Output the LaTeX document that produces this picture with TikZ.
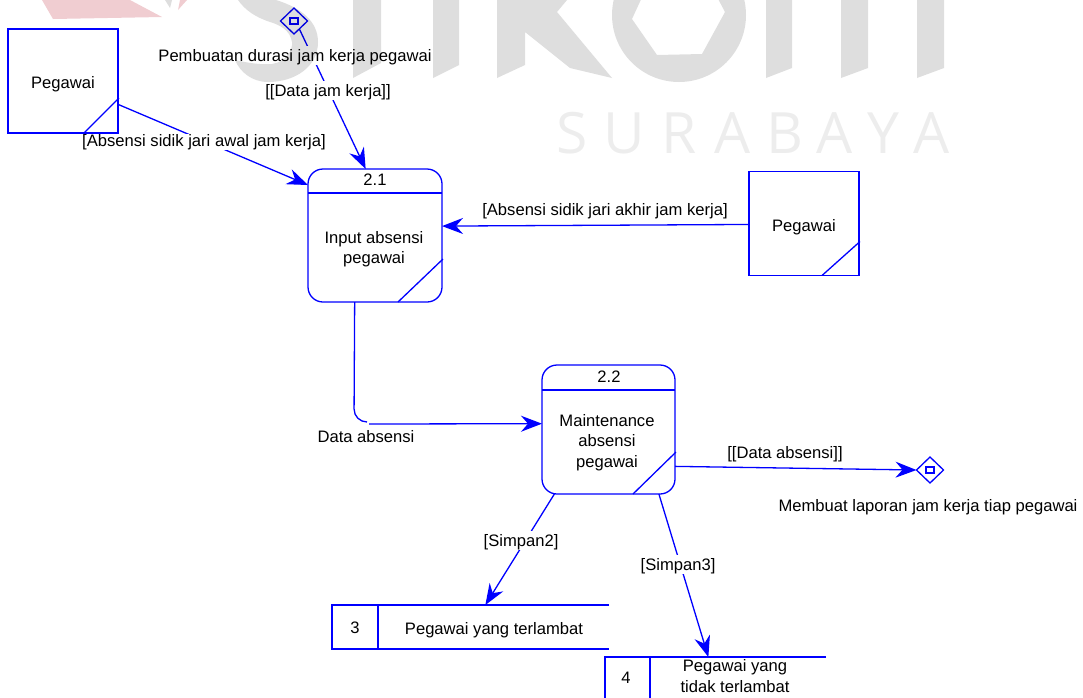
\documentclass[tikz,border=0pt]{standalone}
\usepackage{fontspec}
\setmainfont{Liberation Sans}
\newfontfamily\wmfont{Open Sans}
\usepackage{xcolor}
\usepackage{tikz}
\usetikzlibrary{calc}
\usetikzlibrary{arrows.meta}
\usetikzlibrary{shapes.geometric}
\definecolor{wmgray}{HTML}{DEDEDE}
\definecolor{wmlight}{HTML}{EDEDED}
\definecolor{wmred}{HTML}{F0CDD1}
\tikzset{>={Stealth[length=21pt, width=16pt, inset=7pt]}}
\tikzstyle{flow} = [draw = blue, line width = 1.3pt]
\tikzstyle{txt} = [draw=none, inner sep = 0, align=center, font=\fontsize{16.6}{20.3}\selectfont]
\tikzstyle{lab} = [txt, fill=white, inner xsep = 1pt, text height = 16pt, text depth = 3pt]
\tikzstyle{ext} = [flow, rectangle, inner sep = 0, outer sep = 0, minimum width = 110pt, minimum height = 104pt]
\tikzstyle{proc} = [flow, rectangle, rounded corners = 15pt, inner sep = 0, outer sep = 0]
\tikzstyle{port} = [flow, diamond, inner sep = 0, outer sep = 0, minimum width = 27pt, minimum height = 26pt]
\tikzstyle{store} = [draw=none, rectangle, inner sep = 0, outer sep = 0]
\tikzstyle{wmtext} = [draw=none, inner sep = 0, anchor=base, text=wmlight, font=\wmfont\fontsize{57}{57}\selectfont]
\begin{document}
\begin{tikzpicture}[x=1pt, y=-1pt]
\useasboundingbox (0, 0) rectangle (1083, 697);
\node [ext] (ext1) at (63, 81) {};
\node [ext] (ext2) at (804, 223.5) {};
\node [proc, minimum width = 134pt, minimum height = 133pt] (p21) at (375, 235.5) {};
\node [proc, minimum width = 133pt, minimum height = 129pt] (p22) at (608.5, 429.5) {};
\node [port] (dia1) at (294, 21) {};
\node [port] (dia2) at (930, 470) {};
\node [store, minimum width = 277pt, minimum height = 44pt] (st3) at (470.5, 627) {};
\node [store, minimum width = 221pt, minimum height = 44pt] (st4) at (715.5, 679) {};
\node [flow, rectangle, inner sep = 0, minimum width = 8pt, minimum height = 6pt] (dia1box) at (dia1) {};
\node [flow, rectangle, inner sep = 0, minimum width = 8pt, minimum height = 6pt] (dia2box) at (dia2) {};
\node [txt] (ext1txt) at (63, 84) {Pegawai};
\node [txt] (ext2txt) at (804, 227) {Pegawai};
\node [txt] (p21num) at (375, 180) {2.1};
\node [txt] (p21txt) at (374, 249) {Input absensi\\pegawai};
\node [txt] (p22num) at (609, 377) {2.2};
\node [txt] (p22txt) at (607, 442.5) {Maintenance\\absensi\\pegawai};
\node [txt] (st3num) at (355, 628) {3};
\node [txt] (st3txt) at (494, 630) {Pegawai yang terlambat};
\node [txt] (st4num) at (626, 678) {4};
\node [txt] (st4txt) at (735, 676) {Pegawai yang\\tidak terlambat};
\draw [flow] ($(ext1.south east)+(-34,0)$) -- ($(ext1.south east)+(1,-35)$);
\draw [flow] ($(ext2.south east)+(-37,0)$) -- ($(ext2.south east)+(1,-34)$);
\draw [flow] ($(p21.north west)+(0,24)$) -- ($(p21.north east)+(0,24)$);
\draw [flow] ($(p21.south east)+(-44,0)$) -- ($(p21.south east)+(1,-43)$);
\draw [flow] ($(p22.north west)+(0,25)$) -- ($(p22.north east)+(0,25)$);
\draw [flow] ($(p22.south east)+(-42,0)$) -- ($(p22.south east)+(1,-42)$);
\draw [flow] (st3.north east) -- (st3.north west) -- (st3.south west) -- (st3.south east);
\draw [flow] ($(st3.north west)+(46,0)$) -- ($(st3.south west)+(46,0)$);
\draw [flow] (st4.north east) -- (st4.north west) -- (st4.south west) -- (st4.south east);
\draw [flow] ($(st4.north west)+(45,0)$) -- ($(st4.south west)+(45,0)$);
\coordinate (corner) at (354, 422);
\coordinate (kink) at (367, 422);
\coordinate (kinkb) at (369, 424);
\draw [flow, ->] (ext1.-23.6) -- (p21.143);
\draw [flow, ->] (dia1.-56) -- (p21.98.6);
\draw [flow, ->] (ext2.181.5) -- (p21.8);
\draw [flow, rounded corners = 13pt] (p21.-107.5) -- (corner) -- (kink);
\draw [flow, ->] (kinkb) -- (p22.175.3);
\draw [flow, ->] (p22.-29.4) -- (dia2.west);
\draw [flow, ->] (p22.-130.7) -- (st3.56.6);
\draw [flow, ->] (p22.-52) -- (st4.108.8);
\node [lab] (dia1txt) at (295, 55) {Pembuatan durasi jam kerja pegawai};
\node [lab] (flow1) at (328, 90) {[[Data jam kerja]]};
\node [lab, text height = 13pt] (flow2) at (204, 141.5) {[Absensi sidik jari awal jam kerja]};
\node [txt] (flow3) at (605, 211) {[Absensi sidik jari akhir jam kerja]};
\node [txt] (flow4) at (366, 437) {Data absensi};
\node [txt] (flow5) at (785, 454) {[[Data absensi]]};
\node [txt] (dia2txt) at (928, 507) {Membuat laporan jam kerja tiap pegawai};
\node [lab] (flow6) at (521, 540) {[Simpan2]};
\node [lab] (flow7) at (678, 564) {[Simpan3]};
\begin{scope}[blend mode=multiply]
\clip (0, 0) rectangle (1083, 697);
\fill [wmred] (42, 0) -- (53, 19) -- (162, 17) -- (130, 0) -- cycle;
\fill [wmred] (178, 10) -- (187, 0) -- (180, 0) -- cycle;
\fill [wmgray] (165, 0) -- (170, 8) -- (172, 0) -- cycle;
\fill [wmgray] (238, 0) -- (276, 0) .. controls (302, 8) and (318, 22) .. (318, 42)
  .. controls (318, 66) and (296, 82) .. (268, 82)
  .. controls (252, 82) and (240, 72) .. (235, 60)
  .. controls (248, 63) and (262, 65) .. (272, 64)
  .. controls (286, 62) and (293, 50) .. (292, 42)
  .. controls (290, 30) and (280, 25) .. (270, 22)
  .. controls (255, 17) and (245, 10) .. (238, 0) -- cycle;
\fill [wmgray] (353, 0) -- (381, 0) -- (381, 63) -- (353, 78) -- cycle;
\fill [wmgray] (433, 0) -- (459, 0) -- (459, 65) -- (433, 78) -- cycle;
\fill [wmgray] (497, 0) -- (567, 0) -- (557, 12) -- (612, 78) -- (570, 68) -- (525, 32) -- (525, 65) -- (497, 78) -- cycle;
\fill [wmgray, even odd rule] (679, 15) circle [radius = 67pt]
  (632, 19) -- (657, 55) -- (702, 54) -- (725, 12) -- (708, -20) -- (650, -20) -- cycle;
\fill [wmgray] (766, 0) -- (792, 0) -- (792, 68) -- (766, 78) -- cycle;
\fill [wmgray] (841, 0) -- (868, 0) -- (868, 68) -- (841, 78) -- cycle;
\fill [wmgray] (917, 0) -- (944, 0) -- (944, 68) -- (917, 78) -- cycle;
\foreach \ch/\px [count=\i] in {S/572.5, U/624, R/679, A/732.5, B/784.5, A/835, Y/883, A/931.5}
  \node [wmtext] (wm\i) at (\px, 153) {\ch};
\end{scope}
\end{tikzpicture}
\end{document}
